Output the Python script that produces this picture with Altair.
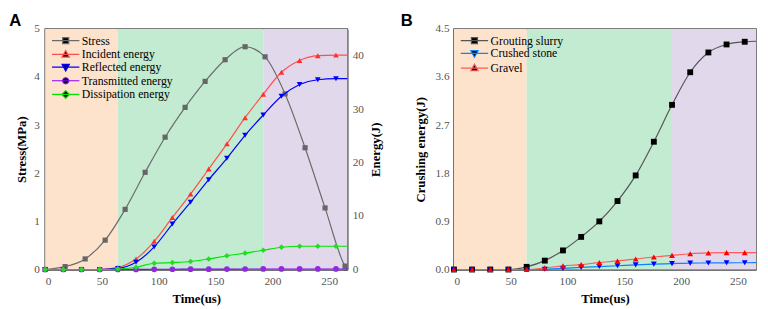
import altair as alt
import pandas as pd

# ---------------- Panel A data ----------------
stress_t = [0, 17.6, 35.2, 52.8, 70.4, 88, 105.6, 123.2, 140.8, 158.4, 176, 193.6, 211.2, 228.8, 246.4, 264, 266]
stress_v = [0, 0.06, 0.22, 0.61, 1.25, 2.02, 2.75, 3.37, 3.91, 4.36, 4.63, 4.42, 3.65, 2.53, 1.28, 0.07, 0.0]

energy_t = [0, 16, 32, 48, 64, 80, 96, 112, 128, 144, 160, 176, 192, 208, 224, 240, 256, 266]
incident = [0, 0, 0, 0, 0.4, 1.96, 5.27, 9.74, 14.1, 18.8, 23.5, 28.4, 32.8, 36.9, 39.1, 40.0, 40.1, 40.1]
reflected = [0, 0, 0, 0, 0.2, 1.35, 4.23, 8.5, 12.6, 16.8, 20.8, 25.1, 28.9, 32.4, 34.6, 35.5, 35.7, 35.7]
transmitted = [0, 0, 0, 0, 0, 0.02, 0.04, 0.05, 0.06, 0.07, 0.08, 0.09, 0.1, 0.1, 0.1, 0.1, 0.1, 0.1]
dissipation = [0, 0, 0, 0, 0.1, 0.42, 1.17, 1.3, 1.5, 1.96, 2.57, 3.06, 3.6, 4.17, 4.35, 4.35, 4.35, 4.35]

# ---------------- Panel B data ----------------
b_t = [0, 16, 32, 48, 64, 80, 96, 112, 128, 144, 160, 176, 192, 208, 224, 240, 256, 266]
slurry = [0, 0, 0, 0, 0.05, 0.166, 0.357, 0.61, 0.90, 1.28, 1.76, 2.39, 3.08, 3.69, 4.06, 4.21, 4.26, 4.27]
crushed = [0, 0, 0, 0, 0, 0.005, 0.02, 0.04, 0.055, 0.07, 0.087, 0.10, 0.11, 0.12, 0.123, 0.125, 0.127, 0.13]
gravel = [0, 0, 0, 0, 0, 0.03, 0.068, 0.092, 0.13, 0.16, 0.197, 0.234, 0.265, 0.295, 0.31, 0.315, 0.315, 0.315]

# ---------------- phases ----------------
phase_name = ["I", "II", "III"]
phase_start = [0, 64, 192]
phase_end = [64, 192, 266]
phase_color = ["#fde3cc", "#c3ebd1", "#e2d8eb"]

X_MAX = 266
last_marker_t = 264

a_series = ["Stress", "Incident energy", "Reflected energy", "Transmitted energy", "Dissipation energy"]
a_line_col = ["#6b6b6b", "#ff4d4d", "#0000ff", "#8800ff", "#00e600"]
a_mark_col = ["#666666", "#ff3030", "#0000ff", "#8f2bdc", "#22dd22"]
a_shape = ["square", "triangle-up", "triangle-down", "circle", "diamond"]

b_series = ["Grouting slurry", "Crushed stone", "Gravel"]
b_line_col = ["#555555", "#0a84ff", "#ff5a5a"]
b_mark_col = ["#000000", "#0000ff", "#ff0000"]
b_shape = ["square", "triangle-down", "triangle-up"]

leg_paths = {
    "square": "M-2.8,0H2.8M-0.62,-0.62H0.62V0.62H-0.62Z",
    "triangle-up": "M-2.8,0H2.8M0,-0.8L0.75,0.55H-0.75Z",
    "triangle-down": "M-2.8,0H2.8M0,0.8L0.75,-0.55H-0.75Z",
    "circle": "M-2.8,0H2.8M-0.62,0A0.62,0.62 0 1,0 0.62,0A0.62,0.62 0 1,0 -0.62,0Z",
    "diamond": "M-2.8,0H2.8M0,-0.8L0.8,0L0,0.8L-0.8,0Z",
}

SERIF = "Liberation Serif"
FRAME = "#555555"
TICK_LABEL = "#555555"


def inward(ax_kwargs):
    base = dict(grid=True, gridDash=[4, 2000], gridColor=FRAME, gridWidth=1.2, gridOpacity=1, ticks=False,
                labelFont=SERIF, labelFontSize=11.5, labelColor=TICK_LABEL, titleFont=SERIF,
                titleFontWeight="bold", titleFontSize=13, titleColor="black", domainColor=FRAME,
                domainWidth=1.5)
    base.update(ax_kwargs)
    return alt.Axis(**base)


def x_axis():
    return inward(dict(values=[0, 50, 100, 150, 200, 250], title="Time(us)", labelPadding=6, titlePadding=6))


xscale = alt.Scale(domain=[0, X_MAX], nice=False, zero=False)

phase_df = pd.DataFrame({"phase": phase_name, "start": phase_start, "end": phase_end})


def bg_layers():
    out = []
    for name, col in zip(phase_name, phase_color):
        out.append(
            alt.Chart(phase_df).transform_filter(alt.datum.phase == name).mark_rect(color=col, opacity=1).encode(
                x=alt.X("start:Q", scale=xscale, axis=x_axis()),
                x2="end:Q",
            )
        )
    return out


def long_df(t, cols):
    rows = []
    for name, vals in cols:
        for ti, v in zip(t, vals):
            rows.append({"t": ti, "value": v, "series": name, "marker": ti <= last_marker_t})
    return pd.DataFrame(rows)


def series_layers(df, yscale, yaxis, color_s, stroke_s, shape_s, size):
    base = alt.Chart(df)
    line = base.mark_line(interpolate="monotone", strokeWidth=1.2).encode(
        x=alt.X("t:Q", scale=xscale, axis=x_axis()),
        y=alt.Y("value:Q", scale=yscale, axis=yaxis),
        stroke=alt.Stroke("series:N", scale=stroke_s, legend=None),
        detail="series:N",
    )
    pts = base.transform_filter("datum.marker").mark_point(filled=True, size=size, opacity=1).encode(
        x=alt.X("t:Q", scale=xscale, axis=x_axis()),
        y=alt.Y("value:Q", scale=yscale, axis=yaxis),
        color=alt.Color("series:N", scale=color_s, legend=None),
        shape=alt.Shape("series:N", scale=shape_s, legend=None),
    )
    return alt.layer(line, pts)


def legend_layer(series, line_cols, mark_cols, shapes):
    df = pd.DataFrame({"series": series})
    leg = alt.Legend(orient="none", legendX=15, legendY=6, title=None, labelFont=SERIF, labelFontSize=12,
                     labelColor="black", symbolSize=100, symbolStrokeWidth=1.2, labelOffset=10.5,
                     rowPadding=1.0, padding=0, symbolOpacity=1, labelLimit=0)
    return alt.Chart(df).transform_filter("false").mark_point(filled=True, size=100, strokeWidth=1.2, opacity=1).encode(
        fill=alt.Fill("series:N", scale=alt.Scale(domain=series, range=mark_cols), legend=leg),
        stroke=alt.Stroke("series:N", scale=alt.Scale(domain=series, range=line_cols), legend=leg),
        shape=alt.Shape("series:N", scale=alt.Scale(domain=series, range=[leg_paths[s] for s in shapes]), legend=leg),
    )


# ---------------- Panel A ----------------
stress_df = long_df(stress_t, [("Stress", stress_v)])
energy_df = long_df(energy_t, [("Incident energy", incident), ("Reflected energy", reflected),
                               ("Transmitted energy", transmitted), ("Dissipation energy", dissipation)])

a_color = alt.Scale(domain=a_series, range=a_mark_col)
a_stroke = alt.Scale(domain=a_series, range=a_line_col)
a_shape_scale = alt.Scale(domain=a_series, range=a_shape)

left_axis = inward(dict(values=[0, 1, 2, 3, 4, 5], title="Stress(MPa)", labelPadding=6, titlePadding=5))
right_axis = inward(dict(orient="right", values=[0, 10, 20, 30, 40], title="Energy(J)", titleAngle=270,
                         titleBaseline="top", labelPadding=5, titlePadding=6))

stress_layer = series_layers(stress_df, alt.Scale(domain=[0, 5], nice=False), left_axis,
                             a_color, a_stroke, a_shape_scale, 28)
energy_layer = series_layers(energy_df, alt.Scale(domain=[0, 45], nice=False), right_axis,
                             a_color, a_stroke, a_shape_scale, 34)

panel_a = alt.layer(*bg_layers(), stress_layer, energy_layer,
                    legend_layer(a_series, a_line_col, a_mark_col, a_shape)).resolve_scale(
    y="independent", shape="independent", stroke="independent").properties(
    width=309, height=246,
    title=alt.TitleParams("A", anchor="start", frame="bounds", font="Liberation Sans", fontSize=17,
                          fontWeight="bold", offset=-7, dx=-7),
)

# ---------------- Panel B ----------------
b_df = long_df(b_t, [("Grouting slurry", slurry), ("Crushed stone", crushed), ("Gravel", gravel)])
b_color = alt.Scale(domain=b_series, range=b_mark_col)
b_stroke = alt.Scale(domain=b_series, range=b_line_col)
b_shape_scale = alt.Scale(domain=b_series, range=b_shape)
b_axis = inward(dict(values=[0, 0.9, 1.8, 2.7, 3.6, 4.5], format=".1f", title="Crushing energy(J)",
                     labelPadding=5, titlePadding=8))
b_lines = series_layers(b_df, alt.Scale(domain=[0, 4.5], nice=False), b_axis,
                        b_color, b_stroke, b_shape_scale, 36)

panel_b = alt.layer(*bg_layers(), b_lines, legend_layer(b_series, b_line_col, b_mark_col, b_shape)).resolve_scale(
    shape="independent", stroke="independent").properties(
    width=309, height=246,
    title=alt.TitleParams("B", anchor="start", frame="bounds", font="Liberation Sans", fontSize=17,
                          fontWeight="bold", offset=-7, dx=-14),
)

chart = alt.hconcat(panel_a, panel_b, spacing=16).resolve_scale(
    color="independent", stroke="independent", shape="independent", fill="independent"
).properties(padding=0).configure_view(stroke=FRAME, strokeWidth=1.5).configure_legend(
    labelFont=SERIF, labelFontSize=12, labelColor="black"
)

chart.save("out.html", embed_options={"renderer": "svg", "actions": False})
